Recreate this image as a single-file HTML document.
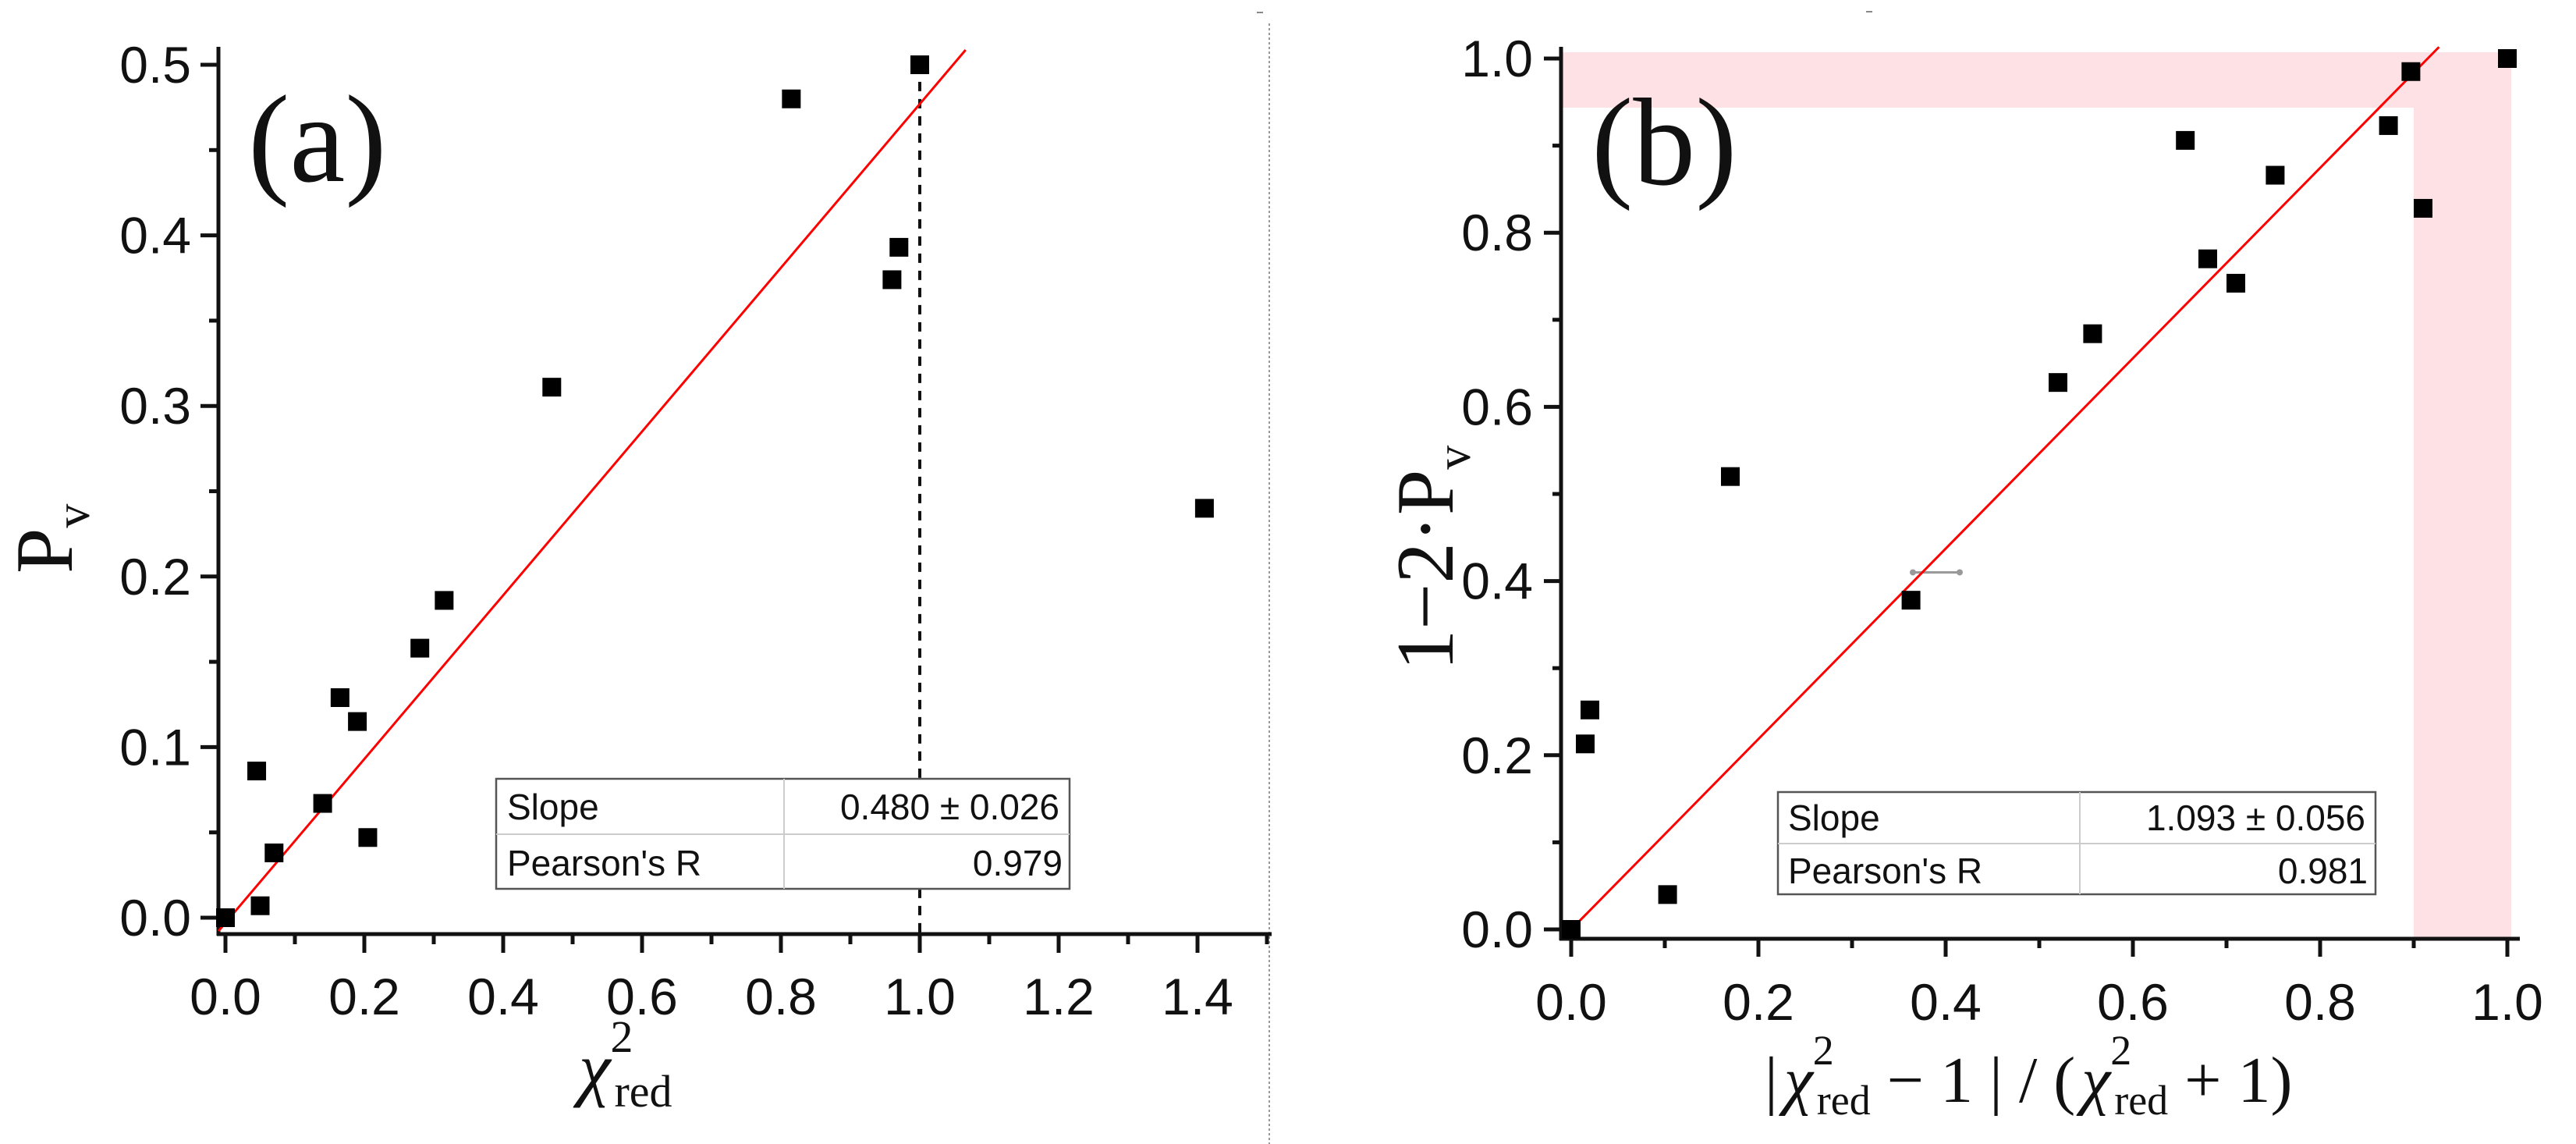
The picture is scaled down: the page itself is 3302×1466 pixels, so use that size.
<!DOCTYPE html>
<html><head><meta charset="utf-8"><style>
html,body{margin:0;padding:0;background:#fff;}
svg{display:block;}
.tk{font-family:"Liberation Sans",sans-serif;font-size:66px;fill:#111;}
.sr{font-family:"Liberation Serif",serif;fill:#111;}
.sr tspan{font-family:"Liberation Serif",serif;}
.tb{font-family:"Liberation Sans",sans-serif;font-size:46px;fill:#111;}
</style></head><body>
<svg id="chart" width="3302" height="1466" viewBox="0 0 3302 1466" xmlns="http://www.w3.org/2000/svg">
<g id="pa"></g>
<g id="pb"></g>
</svg>
<script>
// Panel A data
const aX = [0, 0.05, 0.045, 0.07, 0.14, 0.165, 0.19, 0.205, 0.28, 0.315, 0.47, 0.815, 0.96, 0.97, 1.0, 1.41];
const aY = [0, 0.007, 0.086, 0.038, 0.067, 0.129, 0.115, 0.047, 0.158, 0.186, 0.311, 0.48, 0.374, 0.393, 0.5, 0.24];
const aXTicks = ["0.0","0.2","0.4","0.6","0.8","1.0","1.2","1.4"];
const aYTicks = ["0.0","0.1","0.2","0.3","0.4","0.5"];
const aSlope = 0.48, aIntercept = -0.003;
// Panel B data
const bX = [0, 0.015, 0.02, 0.103, 0.17, 0.363, 0.52, 0.557, 0.656, 0.68, 0.71, 0.752, 0.873, 0.897, 0.91, 1.0];
const bY = [0, 0.213, 0.252, 0.04, 0.52, 0.378, 0.628, 0.684, 0.906, 0.77, 0.742, 0.866, 0.923, 0.985, 0.828, 1.0];
const bXTicks = ["0.0","0.2","0.4","0.6","0.8","1.0"];
const bYTicks = ["0.0","0.2","0.4","0.6","0.8","1.0"];
const bSlope = 1.093, bIntercept = 0.0;

const NS = "http://www.w3.org/2000/svg";
function mk(tag, attrs, parent, text){
  const e = document.createElementNS(NS, tag);
  for (const k in attrs) e.setAttribute(k, attrs[k]);
  if (text !== undefined) e.textContent = text;
  parent.appendChild(e);
  return e;
}
const pa = document.getElementById('pa');
const pb = document.getElementById('pb');

// ---------- Panel A ----------
const ax = v => 289 + v * 890;
const ay = v => 1176 - v * 2186;
let g = mk('line',{x1:1627,y1:30,x2:1627,y2:1466,stroke:'#999','stroke-width':2,'stroke-dasharray':'3 3'},pa);


g = mk('line',{x1:ax(1),y1:ay(0.49),x2:ax(1),y2:1197,stroke:'#111','stroke-width':4,'stroke-dasharray':'12 10'},pa);


g = mk('line',{x1:280,y1:60,x2:280,y2:1199,stroke:'#111','stroke-width':5},pa);


g = mk('line',{x1:278,y1:1197,x2:1630,y2:1197,stroke:'#111','stroke-width':5},pa);


for (let i=0;i<=15;i++){
  const v=i*0.1, x=ax(v), major=i%2===0;
  mk('line',{x1:x,y1:1197,x2:x,y2:major?1221:1210,stroke:'#111','stroke-width':5},pa);
}
aXTicks.forEach((t)=>{
  g = mk('text',{x:ax(parseFloat(t)),y:1300,'text-anchor':'middle',class:'tk'},pa,t);
  
  
});
for (let i=0;i<=10;i++){
  const y=ay(i*0.05), major=i%2===0;
  mk('line',{x1:major?257:268,y1:y,x2:280,y2:y,stroke:'#111','stroke-width':5},pa);
}
aYTicks.forEach((t)=>{
  g = mk('text',{x:245,y:ay(parseFloat(t))+23,'text-anchor':'end',class:'tk'},pa,t);
  
  
});
g = mk('line',{x1:ax(-0.01),y1:ay(aSlope*-0.01+aIntercept),x2:ax(1.066),y2:ay(aSlope*1.066+aIntercept),stroke:'#ff0000','stroke-width':3},pa);


aX.forEach((v,i)=>{
  const r = mk('rect',{x:ax(v)-12,y:ay(aY[i])-12,width:24,height:24,fill:'#000'},pa);
  
  
});
g = mk('text',{x:318,y:232,class:'sr','font-size':160},pa,'(a)');


g = mk('text',{x:0,y:0,class:'sr','font-size':105,transform:'translate(92,735) rotate(-90)'},pa);


mk('tspan',{},g,'P');
mk('tspan',{'font-size':62,dy:22},g,'v');
g = mk('text',{x:742,y:1400,class:'sr','font-size':92},pa);


mk('tspan',{'font-style':'italic'},g,'χ');
mk('tspan',{'font-size':58,dy:-52},g,'2');
mk('tspan',{'font-size':58,dy:70,dx:-24},g,'red');
const ta = mk('g',{},pa);


mk('rect',{x:636,y:998,width:735,height:141,fill:'#fff',stroke:'#555','stroke-width':2.5},ta);
mk('line',{x1:1005,y1:998,x2:1005,y2:1139,stroke:'#ccc','stroke-width':2},ta);
mk('line',{x1:636,y1:1069,x2:1371,y2:1069,stroke:'#ccc','stroke-width':2},ta);
mk('text',{x:650,y:1050,class:'tb'},ta,'Slope');
mk('text',{x:1358,y:1050,class:'tb','text-anchor':'end'},ta,'0.480 ± 0.026');
mk('text',{x:650,y:1122,class:'tb'},ta,"Pearson's R");
mk('text',{x:1362,y:1122,class:'tb','text-anchor':'end'},ta,'0.979');

// ---------- Panel B ----------
const bx = v => 2014 + v * 1200;
const by = v => 1191 - v * 1116;
g = mk('rect',{x:2003,y:67,width:3219-2003,height:71,fill:'#fde1e4'},pb);


g = mk('rect',{x:bx(0.9),y:138,width:3219-bx(0.9),height:1201-138,fill:'#fde1e4'},pb);


mk('line',{x1:1611,y1:16,x2:1619,y2:16,stroke:'#888','stroke-width':2},pb);
mk('line',{x1:2392,y1:15,x2:2400,y2:15,stroke:'#888','stroke-width':2},pb);
g = mk('line',{x1:2001,y1:60,x2:2001,y2:1205,stroke:'#111','stroke-width':5},pb);


g = mk('line',{x1:1999,y1:1203,x2:3230,y2:1203,stroke:'#111','stroke-width':5},pb);


for (let i=0;i<=10;i++){
  const x=bx(i*0.1), major=i%2===0;
  mk('line',{x1:x,y1:1203,x2:x,y2:major?1226:1215,stroke:'#111','stroke-width':5},pb);
}
bXTicks.forEach((t)=>{
  g = mk('text',{x:bx(parseFloat(t)),y:1307,'text-anchor':'middle',class:'tk'},pb,t);
  
  
});
for (let i=0;i<=10;i++){
  const y=by(i*0.1), major=i%2===0;
  mk('line',{x1:major?1979:1990,y1:y,x2:2001,y2:y,stroke:'#111','stroke-width':5},pb);
}
bYTicks.forEach((t)=>{
  g = mk('text',{x:1965,y:by(parseFloat(t))+23,'text-anchor':'end',class:'tk'},pb,t);
  
  
});
g = mk('line',{x1:bx(0.365),y1:by(0.41),x2:bx(0.415),y2:by(0.41),stroke:'#999','stroke-width':3},pb);


mk('circle',{cx:bx(0.365),cy:by(0.41),r:4,fill:'#999'},pb);
mk('circle',{cx:bx(0.415),cy:by(0.41),r:4,fill:'#999'},pb);
g = mk('line',{x1:bx(0),y1:by(bIntercept),x2:bx(0.927),y2:by(bSlope*0.927+bIntercept),stroke:'#ff0000','stroke-width':3},pb);


bX.forEach((v,i)=>{
  const r = mk('rect',{x:bx(v)-12,y:by(bY[i])-12,width:24,height:24,fill:'#000'},pb);
  
  
});
g = mk('text',{x:2040,y:236,class:'sr','font-size':160},pb,'(b)');


g = mk('text',{x:0,y:0,class:'sr','font-size':105,'text-anchor':'middle',transform:'translate(1862,715) rotate(-90)'},pb);


mk('tspan',{},g,'1−2·P');
mk('tspan',{'font-size':62,dy:22},g,'v');
g = mk('text',{x:2262,y:1412,class:'sr','font-size':84},pb);


mk('tspan',{},g,'|');
mk('tspan',{'font-style':'italic',dx:8},g,'χ');
mk('tspan',{'font-size':54,dy:-48},g,'2');
mk('tspan',{'font-size':54,dy:64,dx:-22},g,'red');
mk('tspan',{dy:-16},g,' − 1 | / (');
mk('tspan',{'font-style':'italic',dx:8},g,'χ');
mk('tspan',{'font-size':54,dy:-48},g,'2');
mk('tspan',{'font-size':54,dy:64,dx:-22},g,'red');
mk('tspan',{dy:-16},g,' + 1)');
const tb = mk('g',{},pb);


mk('rect',{x:2279,y:1015,width:766,height:131,fill:'#fff',stroke:'#555','stroke-width':2.5},tb);
mk('line',{x1:2666,y1:1015,x2:2666,y2:1146,stroke:'#ccc','stroke-width':2},tb);
mk('line',{x1:2279,y1:1081,x2:3045,y2:1081,stroke:'#ccc','stroke-width':2},tb);
mk('text',{x:2292,y:1064,class:'tb'},tb,'Slope');
mk('text',{x:3032,y:1064,class:'tb','text-anchor':'end'},tb,'1.093 ± 0.056');
mk('text',{x:2292,y:1132,class:'tb'},tb,"Pearson's R");
mk('text',{x:3035,y:1132,class:'tb','text-anchor':'end'},tb,'0.981');
</script>
</body></html>
